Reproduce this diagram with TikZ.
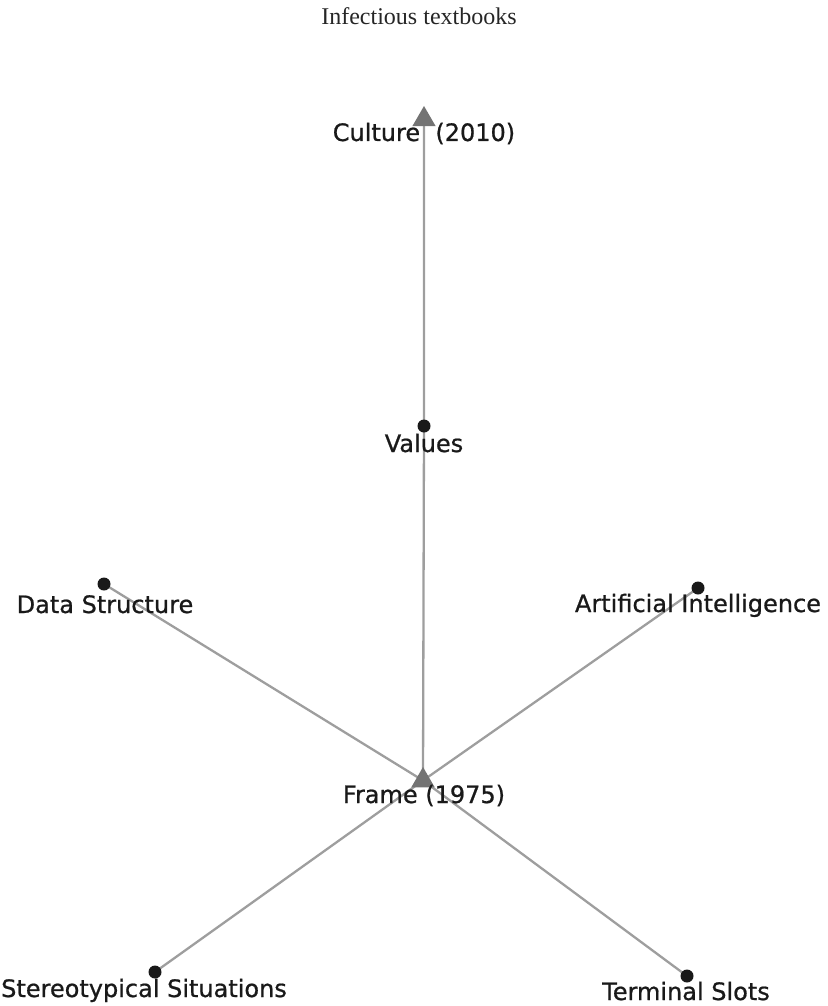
\documentclass[tikz,border=0pt]{standalone}
\usepackage{fontspec}
\setmainfont{Liberation Serif}
\newfontfamily\mapfont[FakeBold=0.8]{DejaVu Sans}
\usetikzlibrary{shapes.geometric,backgrounds}

\tikzstyle{concept} = [circle,fill=black!90,inner sep=0pt,minimum size=13pt]
\tikzstyle{dated} = [regular polygon,regular polygon sides=3,fill=black!55,inner sep=0pt,minimum size=27pt]
\tikzstyle{caption} = [anchor=base,inner sep=0pt,text=black!90,font=\mapfont\fontsize{24}{24}\selectfont]
\tikzstyle{link} = [draw=black!38,line width=2.3pt]

\begin{document}
\begin{tikzpicture}[x=1pt,y=-1pt]
\useasboundingbox (0,0) rectangle (827,1006);
\node[anchor=base,inner sep=0pt,text=black!85,font=\fontsize{24}{24}\selectfont] (title) at (419,25) {Infectious textbooks};

% concepts
\node[dated] (culture) at (424,119.5) {};
\node[concept] (values) at (424,426) {};
\node[concept] (datastr) at (104,584) {};
\node[concept] (artint) at (698,588) {};
\node[dated] (frame) at (423,780.5) {};
\node[concept] (stereo) at (155,972) {};
\node[concept] (terminal) at (687,976) {};

% their captions
\node[caption] (culturetxt) at (424,141) {Culture\ \ (2010)};
\node[caption] (valuestxt) at (424,452) {Values};
\node[caption] (datastrtxt) at (105,613) {Data Structure};
\node[caption] (artinttxt) at (698,612) {Artificial Intelligence};
\node[caption] (frametxt) at (424,803) {Frame (1975)};
\node[caption] (stereotxt) at (144,997) {Stereotypical Situations};
\node[caption] (terminaltxt) at (686,1000) {Terminal Slots};

\begin{scope}[on background layer]
	\draw[link] (frame.center) -- (values.center) -- (culture.center);
	\foreach \n in {datastr,artint,stereo,terminal}
		\draw[link] (frame.center) -- (\n.center);
\end{scope}
\end{tikzpicture}
\end{document}
